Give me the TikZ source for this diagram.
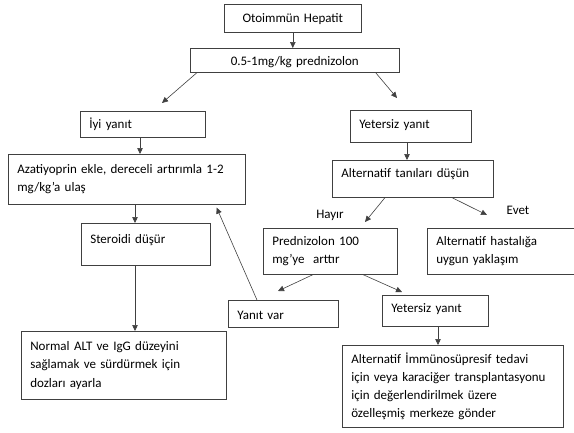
\documentclass[tikz,border=0pt]{standalone}
\usepackage{fontspec}
\setmainfont{Carlito}
\usetikzlibrary{arrows.meta}
\tikzset{
  box/.style={draw=black!75, line width=0.6pt, anchor=north west, align=left, inner xsep=9pt, inner ysep=0pt, font=\fontsize{13}{18.3}\selectfont},
  cbox/.style={box, align=center},
  lbl/.style={font=\fontsize{13}{16}\selectfont},
  arr/.style={draw=black!75, line width=0.6pt, -{Triangle[length=6pt,width=5.5pt]}}
}

\begin{document}
\begin{tikzpicture}[x=1pt, y=-1pt]
	\useasboundingbox (0,0) rectangle (574,432);
	% top of the chart
	\node[cbox, text width=119pt, text height=18pt, text depth=10pt] (oto) at (224,4) {Otoimmün Hepatit};
	\node[cbox, text width=191pt, text height=17pt, text depth=7pt] (pred) at (190,48) {0.5-1mg/kg prednizolon};
	% left branch
	\node[box, text width=107pt, text height=17pt, text depth=9pt] (iyi) at (80,111) {İyi yanıt};
	\node[box, text width=219pt, minimum height=50pt] (aza) at (8,154) {Azatiyoprin ekle, dereceli artırımla 1-2\\mg/kg’a ulaş};
	\node[box, text width=111pt, text height=20pt, text depth=22pt] (ster) at (81,223) {Steroidi düşür};
	\node[box, text width=187pt, minimum height=68pt] (normal) at (21,331) {Normal ALT ve IgG düzeyini\\sağlamak ve sürdürmek için\\dozları ayarla};
	% right branch
	\node[box, text width=103pt, text height=18pt, text depth=14pt] (yet) at (350,110) {Yetersiz yanıt};
	\node[box, text width=143pt, text height=17pt, text depth=20pt] (alt) at (332,160) {Alternatif tanıları düşün};
	\node[box, text width=116pt, minimum height=46pt] (predyuz) at (263,228) {Prednizolon 100\\mg’ye\ \ arttır};
	\node[box, text width=142pt, minimum height=46pt] (althast) at (427,228) {Alternatif hastalığa\\uygun yaklaşım};
	\node[box, text width=92pt, text height=19pt, text depth=8pt] (yanit) at (228,300) {Yanıt var};
	\node[box, text width=88pt, text height=17pt, text depth=14pt] (yetiki) at (382,295) {Yetersiz yanıt};
	\node[box, text width=203pt, minimum height=82pt] (merkez) at (342,345) {Alternatif İmmünosüpresif tedavi\\için veya karaciğer transplantasyonu\\için değerlendirilmek üzere\\özelleşmiş merkeze gönder};
	\node[lbl] (hayir) at (330,215) {Hayır};
	\node[lbl] (evet) at (518,210) {Evet};
	% arrows
	\draw[arr] (oto.south) -- (oto.south |- pred.north);
	\draw[arr] ([xshift=7pt]pred.south west) -- ([xshift=82pt,yshift=8pt]iyi.north west);
	\draw[arr] ([xshift=-24pt]pred.south east) -- ([xshift=47pt,yshift=12pt]yet.north west);
	\draw[arr] ([xshift=60pt]iyi.south west) -- ([xshift=60pt]iyi.south west |- aza.north);
	\draw[arr] ([xshift=54pt]ster.north west |- aza.south) -- ([xshift=54pt]ster.north west);
	\draw[arr] ([xshift=54pt]ster.south west) -- ([xshift=54pt]ster.south west |- normal.north);
	\draw[arr] ([xshift=57pt]yet.south west) -- ([xshift=57pt]yet.south west |- alt.north);
	\draw[arr] ([xshift=53pt]alt.south west) -- ([xshift=102pt,yshift=6pt]predyuz.north west);
	\draw[arr] ([xshift=120pt]alt.south west) -- ([xshift=60pt,yshift=13pt]althast.north west);
	\draw[arr] ([xshift=50pt]predyuz.south west) -- ([xshift=50pt,yshift=9pt]yanit.north west);
	\draw[arr] ([xshift=100pt]predyuz.south west) -- ([xshift=20pt,yshift=3pt]yetiki.north west);
	\draw[arr] ([xshift=29pt]yanit.north west) -- ([xshift=-29pt,yshift=-3pt]aza.south east);
	\draw[arr] ([xshift=56pt]yetiki.south west) -- ([xshift=56pt]yetiki.south west |- merkez.north);
\end{tikzpicture}
\end{document}
